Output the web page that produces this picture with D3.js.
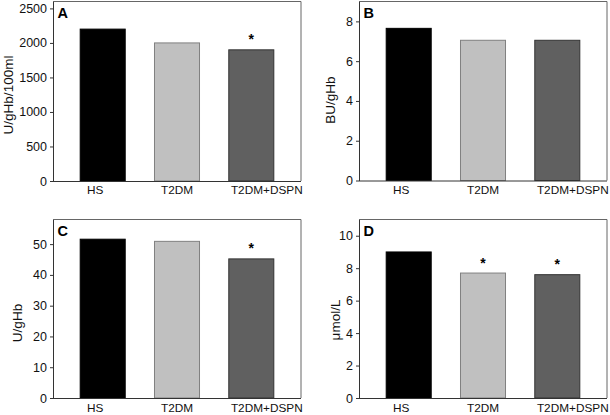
<!DOCTYPE html>
<html><head><meta charset="utf-8">
<script src="https://cdn.jsdelivr.net/npm/d3@7"></script>
<style>body{margin:0;background:#fff} text{font-family:"Liberation Sans",Arial,Helvetica,sans-serif}</style>
</head><body><svg id="c" width="610" height="415"></svg>
<script>
// ---- data ----
const categories = ["HS", "T2DM", "T2DM+DSPN"];
const valuesA = [2200, 2000, 1900];
const valuesB = [7.65, 7.05, 7.05];
const valuesC = [51.6, 50.9, 45.2];
const valuesD = [9.0, 7.7, 7.6];
const sigA = [false, false, true];
const sigB = [false, false, false];
const sigC = [false, false, true];
const sigD = [false, true, true];
const ticksA = [0, 500, 1000, 1500, 2000, 2500];
const ticksB = [0, 2, 4, 6, 8];
const ticksC = [0, 10, 20, 30, 40, 50];
const ticksD = [0, 2, 4, 6, 8, 10];
const labels = ["A", "B", "C", "D"];
const yTitles = ["U/gHb/100ml", "BU/gHb", "U/gHb", "\u03bcmol/L"];

// ---- layout / style ----
const fills = ["#000000", "#c0c0c0", "#606060"];
const strokes = ["#000000", "#808080", "#333333"];
const labelOffsets = [-7.5, 0, 15.5];
const panels = [
  {values: valuesA, sig: sigA, ticks: ticksA, ymax: 2600, left: 53, right: 301, top: 1.5, bottom: 181, tx: 8.5, ty: 95, lblY: 12.5},
  {values: valuesB, sig: sigB, ticks: ticksB, ymax: 9, left: 359, right: 607, top: 1.5, bottom: 180.5, tx: 330, ty: 100, lblY: 13},
  {values: valuesC, sig: sigC, ticks: ticksC, ymax: 58, left: 53, right: 301, top: 219.5, bottom: 398, tx: 17.5, ty: 323, lblY: 13.5},
  {values: valuesD, sig: sigD, ticks: ticksD, ymax: 11, left: 359, right: 607, top: 219.5, bottom: 398, tx: 335.5, ty: 320, lblY: 13.5}
];

const svg = d3.select("#c");
const FONT = '"Liberation Sans",Arial,sans-serif';

panels.forEach((p, pi) => {
  const g = svg.append("g");
  const x = d3.scaleBand().domain(categories).range([p.left, p.right])
    .paddingInner(0.394).paddingOuter(0.366);
  const y = d3.scaleLinear().domain([0, p.ymax]).range([p.bottom, p.top]);

  // box top/right
  g.append("path")
    .attr("d", `M${p.left},${p.top}H${p.right}V${p.bottom}`)
    .attr("fill", "none").attr("stroke", "#666").attr("stroke-width", 1);

  // bars
  g.selectAll("rect.bar").data(p.values).join("rect")
    .attr("class", "bar")
    .attr("x", (d, i) => x(categories[i]))
    .attr("width", x.bandwidth())
    .attr("y", d => y(d))
    .attr("height", d => y(0) - y(d))
    .attr("fill", (d, i) => fills[i])
    .attr("stroke", (d, i) => strokes[i])
    .attr("stroke-width", 1);

  // significance stars
  g.selectAll("text.star").data(p.values.map((v, i) => ({v, i})).filter(d => p.sig[d.i])).join("text")
    .attr("class", "star")
    .attr("x", d => x(categories[d.i]) + x.bandwidth() / 2)
    .attr("y", d => y(d.v) - 13 + 7.5)
    .attr("text-anchor", "middle")
    .attr("font-size", 14).attr("font-weight", "bold")
    .text("*");

  // y axis
  const ya = g.append("g").attr("transform", `translate(${p.left},0)`)
    .call(d3.axisLeft(y).tickValues(p.ticks).tickFormat(d3.format("d"))
      .tickSize(3).tickPadding(3).tickSizeOuter(0));
  ya.select(".domain").attr("stroke", "#333");
  ya.selectAll(".tick line").attr("stroke", "#333");
  ya.selectAll(".tick text").attr("font-size", 12.5).attr("fill", "#111")
    .style("font-family", FONT);

  // x axis
  const xa = g.append("g").attr("transform", `translate(0,${p.bottom})`)
    .call(d3.axisBottom(x).tickSize(0).tickSizeOuter(0));
  xa.select(".domain").attr("stroke", "#333").attr("d", `M${p.left},0.5H${p.right}`);
  xa.selectAll(".tick text")
    .attr("font-size", 11.8).attr("fill", "#111")
    .style("font-family", FONT)
    .attr("y", p.lblY).attr("dy", 0)
    .attr("dx", (d, i) => labelOffsets[i]);

  // y title
  g.append("text")
    .attr("transform", `translate(${p.tx},${p.ty}) rotate(-90)`)
    .attr("dy", "0.35em")
    .attr("text-anchor", "middle")
    .attr("font-size", 13.5).attr("fill", "#111")
    .text(yTitles[pi]);

  // panel letter
  g.append("text")
    .attr("x", p.left + 4.5)
    .attr("y", p.top + 16.8)
    .attr("font-size", 14.5).attr("font-weight", "bold")
    .text(labels[pi]);
});
</script>
</body></html>
